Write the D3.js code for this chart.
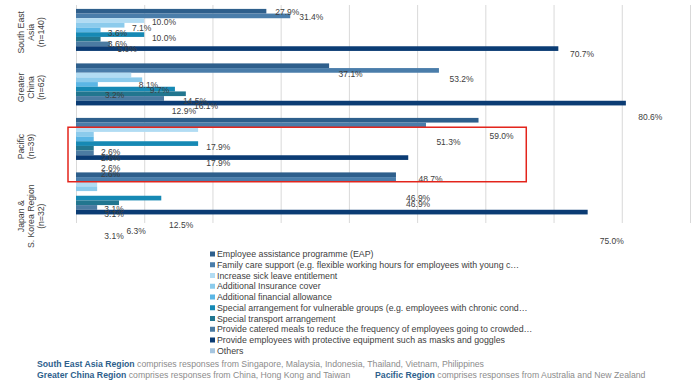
<!DOCTYPE html>
<html><head><meta charset="utf-8">
<script src="https://cdn.jsdelivr.net/npm/d3@7"></script>
<style>
body{margin:0;background:#fff;}
svg text{font-family:"Liberation Sans",Arial,Helvetica,sans-serif;}
</style>
</head><body>
<svg id="chart" width="700" height="390"></svg>
<script>
// ---------- data ----------
const regions = ["South East Asia (n=140)", "Greater China (n=62)", "Pacific (n=39)", "Japan & S. Korea Region (n=32)"];
const regionLines = [["South East", "Asia", "(n=140)"], ["Greater", "China", "(n=62)"], ["Pacific", "(n=39)"], ["Japan &", "S. Korea Region", "(n=32)"]];
const seriesNames = [
  "Employee assistance programme (EAP)",
  "Family care support (e.g. flexible working hours for employees with young c\u2026",
  "Increase sick leave entitlement",
  "Additional Insurance cover",
  "Additional financial allowance",
  "Special arrangement for vulnerable groups (e.g. employees with chronic cond\u2026",
  "Special transport arrangement",
  "Provide catered meals to reduce the frequency of employees going to crowded\u2026",
  "Provide employees with protective equipment such as masks and goggles",
  "Others"
];
const seriesColors = ["#2E5F8C", "#4A7DAA", "#B2DCF3", "#8CCBEC", "#5BB6E5", "#1689B4", "#22768F", "#4B7BA2", "#0B3C74", "#A6C5DF"];
const eap        = [27.9, 37.1, 59.0, 46.9];
const familyCare = [31.4, 53.2, 51.3, 46.9];
const sickLeave  = [10.0, 8.1, 17.9, 3.1];
const insurance  = [7.1, 9.7, 2.6, 3.1];
const financial  = [3.6, 3.2, 2.6, 0];
const vulnerable = [10.0, 14.5, 17.9, 12.5];
const transport  = [3.6, 16.1, 2.6, 6.3];
const meals      = [5.0, 12.9, 2.6, 3.1];
const protective = [70.7, 80.6, 48.7, 75.0];
const others     = [0, 0, 0, 0];
const xTicks = [0, 10, 20, 30, 40, 50, 60, 70, 80, 90];
const footnotes = [
  [["South East Asia Region", " comprises responses from Singapore, Malaysia, Indonesia, Thailand, Vietnam, Philippines"]],
  [["Greater China Region", " comprises responses from China, Hong Kong and Taiwan"], ["Pacific Region", " comprises responses from Australia and New Zealand"]]
];

const seriesValues = [eap, familyCare, sickLeave, insurance, financial, vulnerable, transport, meals, protective, others];

// ---------- layout ----------
const svg = d3.select("#chart");
const plotTop = 5, plotBottom = 223, plotLeft = 76, plotRight = 690;
const plotH = plotBottom - plotTop;

const x = d3.scaleLinear().domain([0, 90]).range([plotLeft, plotRight]);
const y0 = d3.scaleBand().domain(regions).range([plotTop, plotBottom]).paddingInner(0.143).paddingOuter(0.0715);
const y1 = d3.scaleBand().domain(seriesNames).range([0, y0.bandwidth()]);
// data labels were laid out on a slightly stretched frame in the original
const labelY = d3.scaleLinear().domain([plotTop, plotBottom]).range([plotTop - 0.5, plotTop - 0.5 + 1.143 * plotH]);
const labelX = d3.scaleLinear().domain([0, 90]).range([plotLeft + 7, plotRight + 13]);
// category labels drift downward in the original
const catY = c => c + 0.16 * plotH * Math.pow((c - plotTop) / plotH, 4);

// gridlines
svg.append("g")
  .attr("transform", `translate(0,${plotBottom})`)
  .call(d3.axisBottom(x).tickValues(xTicks).tickSize(-plotH).tickFormat(""))
  .call(g => g.select(".domain").remove())
  .call(g => g.selectAll("line").attr("stroke", "#D9D9D9").attr("stroke-width", 1));

// bars
const rows = [];
regions.forEach((r, gi) => {
  seriesNames.forEach((s, si) => {
    rows.push({region: r, series: s, si, value: seriesValues[si][gi]});
  });
});

svg.append("g").selectAll("rect").data(rows.filter(d => d.value > 0)).join("rect")
  .attr("x", x(0))
  .attr("y", d => y0(d.region) + y1(d.series))
  .attr("width", d => x(d.value) - x(0))
  .attr("height", y1.bandwidth())
  .attr("fill", d => seriesColors[d.si]);

// data labels
svg.append("g").selectAll("text").data(rows.filter(d => d.value > 0)).join("text")
  .attr("x", d => labelX(d.value))
  .attr("y", d => labelY(y0(d.region) + y1(d.series) + y1.bandwidth() / 2))
  .attr("dy", "0.35em")
  .attr("font-size", 8.5)
  .attr("fill", "#404040")
  .text(d => d3.format(".1f")(d.value) + "%");

// category labels (rotated)
const cat = svg.append("g").selectAll("text").data(regions).join("text")
  .attr("transform", d => `translate(24,${catY(y0(d) + y0.bandwidth() / 2)}) rotate(-90)`)
  .attr("text-anchor", "middle")
  .attr("font-size", 8.7)
  .attr("fill", "#404040");
cat.selectAll("tspan").data((d, i) => regionLines[i]).join("tspan")
  .attr("x", 0)
  .attr("dy", (d, i) => i === 0 ? 0 : 10)
  .text(d => d);

// highlight box
const pacific = regions[2], japan = regions[3];
svg.append("rect")
  .attr("x", x(0) - 8)
  .attr("y", y0(pacific) + y1(seriesNames[2]))
  .attr("width", x(66) - x(0) + 8)
  .attr("height", (y0(japan) + y1(seriesNames[2])) - (y0(pacific) + y1(seriesNames[2])))
  .attr("fill", "none")
  .attr("stroke", "#E3241B")
  .attr("stroke-width", 1.5);

// legend
const leg = svg.append("g").attr("transform", "translate(210,254)");
const li = leg.selectAll("g").data(seriesNames).join("g")
  .attr("transform", (d, i) => `translate(0,${i * 10.75})`);
li.append("rect").attr("x", 0).attr("y", -2.5).attr("width", 5).attr("height", 5)
  .attr("fill", (d, i) => seriesColors[i]);
li.append("text").attr("x", 7).attr("dy", "0.35em").attr("font-size", 8.8).attr("fill", "#404040").text(d => d);

// footnotes
const fnX = [[37], [37, 375]];
footnotes.forEach((line, li2) => {
  line.forEach((part, pi) => {
    const t = svg.append("text")
      .attr("x", fnX[li2][pi])
      .attr("y", 367 + li2 * 11)
      .attr("font-size", 8.7);
    t.append("tspan").attr("font-weight", "bold").attr("fill", "#2E5F8C").text(part[0]);
    t.append("tspan").attr("fill", "#8C8C8C").text(part[1]);
  });
});
</script>
</body></html>
